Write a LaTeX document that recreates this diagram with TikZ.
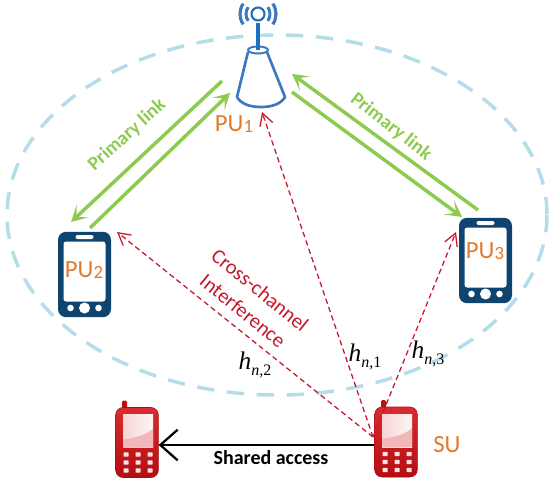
\documentclass[tikz,border=0pt]{standalone}
\usepackage{fontspec}
\setmainfont{Carlito}
\newfontfamily\hfont{Liberation Serif}
\usetikzlibrary{arrows.meta,calc}
\definecolor{navy}{HTML}{0F4470}
\definecolor{towerblue}{HTML}{3F78BE}
\definecolor{mastblue}{HTML}{1F6FBD}
\definecolor{linkgreen}{HTML}{8DCB4F}
\definecolor{ringblue}{HTML}{B4DDE9}
\definecolor{puorange}{HTML}{E27A2C}
\definecolor{redlink}{HTML}{C4182C}
\definecolor{phonered}{HTML}{D40F14}
\tikzset{
  x=0.75pt,y=-0.75pt,
  ring/.style={draw=ringblue,line width=2.6pt,dash pattern=on 13pt off 9.5pt},
  greenlink/.style={draw=linkgreen,line width=2.6pt,-{Stealth[length=12pt,width=13pt,inset=6.5pt]}},
  interf/.style={draw=redlink,line width=0.95pt,dash pattern=on 4pt off 2.6pt,-{Straight Barb[length=9pt,width=10pt,line width=0.95pt]}},
  sharedlink/.style={draw=black,line width=2pt,-{Straight Barb[length=13pt,width=23pt,line width=1.7pt]}},
  pulabel/.style={text=puorange,font=\fontsize{18.5}{20}\selectfont,inner sep=0pt},
  greenlabel/.style={text=linkgreen,font=\fontsize{14.5}{16}\selectfont\bfseries,inner sep=0pt},
  redlabel/.style={text=redlink,font=\fontsize{15.5}{17}\selectfont,inner sep=0pt},
  gainlabel/.style={text=black,font=\hfont\itshape\fontsize{19}{20}\selectfont,inner sep=0pt},
  phonebody/.style={fill=navy,rounded corners=6pt,minimum width=39.75pt,minimum height=64pt,inner sep=0pt},
  redbody/.style={top color=phonered!88!white,bottom color=phonered!85!black,draw=phonered!80!black,line width=.4pt,rounded corners=5.5pt,minimum width=32pt,minimum height=52.5pt,inner sep=0pt},
}
\newcommand{\puphone}[3]{% name, cx, cy
  \node[phonebody] (#1) at (#2,#3) {};
  \fill[white,rounded corners=2pt] ($(#1.center)+(-21,-33)$) rectangle ($(#1.center)+(21,27)$);
  \fill[white,rounded corners=1.5pt] ($(#1.center)+(-9,-39.5)$) rectangle ($(#1.center)+(9,-35.5)$);
  \fill[white] ($(#1.center)+(0,33.5)$) circle[radius=5.5*0.75pt];
  \fill[white] ($(#1.center)+(-14,33.5)$) circle[radius=3.3*0.75pt];
  \fill[white] ($(#1.center)+(14,33.5)$) circle[radius=3.3*0.75pt];
}
\newcommand{\redphone}[3]{% name, cx, cy
  \fill[phonered!90!black,rounded corners=1pt] ($(#2,#3)+(-15,-42)$) rectangle ($(#2,#3)+(-10,-30)$);
  \node[redbody] (#1) at (#2,#3) {};
  \shade[left color=white!82!phonered,right color=white!96!phonered] ($(#1.center)+(-14,-28)$) rectangle ($(#1.center)+(16,5)$);
  \fill[white!70!phonered] ($(#1.center)+(-14,5)$) -- ($(#1.center)+(-14,-3)$) .. controls ($(#1.center)+(0,-5)$) and ($(#1.center)+(10,-8)$) .. ($(#1.center)+(16,-14)$) -- ($(#1.center)+(16,5)$) -- cycle;
  \foreach \kx in {-11,1,13}{\foreach \ky in {12,20,28}{
    \fill[white!88!phonered,rounded corners=.5pt] ($(#1.center)+(\kx-2.5,\ky-2.2)$) rectangle ($(#1.center)+(\kx+2.5,\ky+2.2)$);
  }}
}
\newcommand{\gain}[1]{h\raisebox{-4pt}{\fontsize{12}{13}\selectfont n,\upshape #1}}
\newcommand{\pusub}[1]{\raisebox{-.5pt}{\fontsize{14}{15}\selectfont #1}}
\begin{document}
\begin{tikzpicture}
\useasboundingbox (0,0) rectangle (549,485);
% coverage ring
\draw[ring] (277,215) ellipse[x radius=270,y radius=180];
% base station
\node[inner sep=0pt,minimum size=1pt] (tower) at (258,78) {};
\draw[mastblue,line width=3pt] (258,50) -- (258,23);
\draw[mastblue,line width=1.6pt,fill=white] (258,14) circle[radius=6.5];
\draw[towerblue,line width=2pt,fill=white,line join=round]
  (248,52) -- (237,97) .. controls (241,104) and (250,107) .. (261,107)
  .. controls (272,107) and (281,104) .. (285,97) -- (267,52);
\draw[towerblue,line width=1.5pt] (258,50) ellipse[x radius=10,y radius=3.5];
\draw[mastblue,line width=3pt] (258,50) -- (258,42);
\foreach \r/\w in {12/2.2,18/2.4}{
  \draw[towerblue,line width=\w pt] (258,14)+(145:\r) arc[start angle=145,end angle=215,radius=\r];
  \draw[towerblue,line width=\w pt] (258,14)+(-35:\r) arc[start angle=-35,end angle=35,radius=\r];
}
% phones
\puphone{pu2}{84.5}{274.5}
\puphone{pu3}{485.5}{260.5}
\redphone{rx}{137}{442.5}
\redphone{su}{396}{442}
% anchors for the connectors
\coordinate (a2out) at (222,81); \coordinate (a2in) at (71,222);
\coordinate (b1out) at (90,228); \coordinate (b1in) at (230,93);
\coordinate (a3out) at (478,210); \coordinate (a3in) at (292,74);
\coordinate (b3out) at (292,92); \coordinate (b3in) at (462,217);
\coordinate (suhub) at (373,437);
\coordinate (i1) at (262,112); \coordinate (i2) at (117,232); \coordinate (i3) at (456,232);
% primary links
\draw[greenlink] (a2out) -- (a2in);
\draw[greenlink] (b1out) -- (b1in);
\draw[greenlink] (a3out) -- (a3in);
\draw[greenlink] (b3out) -- (b3in);
% interference
\draw[interf] (suhub) -- (i1);
\draw[interf] (suhub) -- (i2);
\draw[interf] (suhub) -- (i3);
% shared access
\draw[sharedlink] (su.west |- 0,445) -- (rx.east |- 0,445);
% labels
\node[pulabel] (lpu1) at (234,124) {PU\pusub{1}};
\node[pulabel] (lpu2) at (84,270) {PU\pusub{2}};
\node[pulabel] (lpu3) at (485,251) {PU\pusub{3}};
\node[pulabel] (lsu) at (447,445) {SU};
\node[greenlabel,rotate=42] (lp1) at (127,135) {Primary link};
\node[greenlabel,rotate=-38] (lp2) at (391,127) {Primary link};
\node[redlabel,rotate=-39] (lc1) at (260,290) {Cross-channel};
\node[redlabel,rotate=-39] (lc2) at (243,311) {Interference};
\node[gainlabel] (h2) at (255,365) {\gain{2}};
\node[gainlabel] (h1) at (365,357) {\gain{1}};
\node[gainlabel] (h3) at (428,354) {\gain{3}};
\node[inner sep=0pt,font=\fontsize{15}{17}\selectfont\bfseries] (shared) at (271,458) {Shared access};
\end{tikzpicture}
\end{document}
